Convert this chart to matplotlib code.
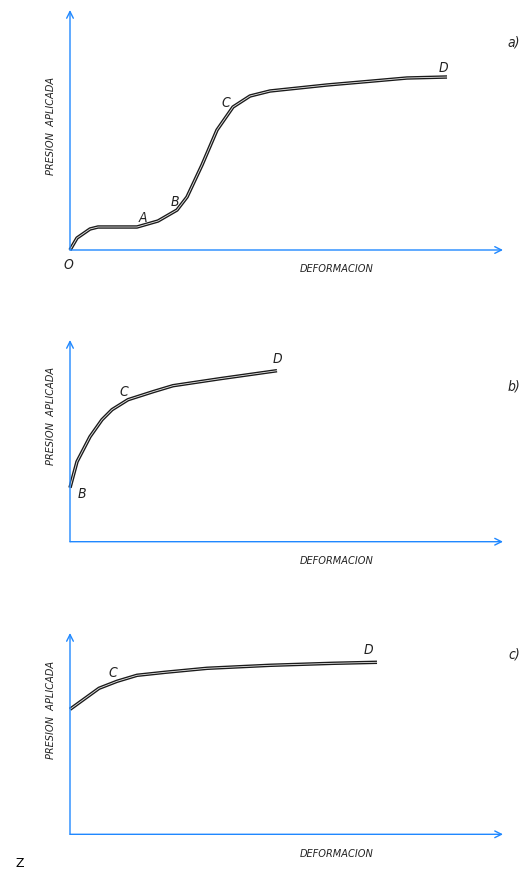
import matplotlib
matplotlib.use("Agg")
import matplotlib.pyplot as plt

# ---- data (arbitrary units: deformation, applied pressure) ----
a_x = [0, 7, 20, 28, 67, 88, 107, 117, 132, 147, 163, 180, 200, 257, 303, 337, 377]
a_y = [0, 12, 21, 23, 23, 29, 40, 53, 85, 120, 143, 154, 159, 165, 169, 172, 173]
a_pts = {"O": (-2, -15), "A": (73, 32), "B": (105, 48), "C": (156, 147), "D": (373, 182)}

b_x = [0, 7, 20, 32, 42, 58, 83, 103, 150, 207]
b_y = [54, 80, 105, 122, 132, 142, 150, 156, 163, 171]
b_pts = {"B": (12, 48), "C": (54, 150), "D": (207, 183)}

c_x = [0, 29, 47, 67, 95, 137, 200, 263, 307]
c_y = [125, 146, 153, 159, 162, 166, 169, 171, 172]
c_pts = {"C": (43, 161), "D": (298, 184)}

panel_tags = ["a)", "b)", "c)"]
xlabel = "DEFORMACION"
ylabel = "PRESION  APLICADA"

W, H = 522, 875
fig = plt.figure(figsize=(W / 100, H / 100), dpi=100)
blue = "#2088ff"
font = dict(family="DejaVu Sans", stretch="condensed", style="oblique", color="#222222")

panels = [
    (a_x, a_y, a_pts, 250.0, 240.0, 42, 126),
    (b_x, b_y, b_pts, 541.7, 201.7, 387, 416),
    (c_x, c_y, c_pts, 834.3, 201.3, 655, 710),
]

for (xs, ys, pts, oy, hgt, tag_y, yc), tag in zip(panels, panel_tags):
    ax = fig.add_axes([70 / W, (H - oy) / H, 433 / W, hgt / H])
    ax.set_xlim(0, 433)
    ax.set_ylim(0, hgt)
    ax.axis("off")
    # axes arrows
    ax.annotate("", xy=(1, 0), xytext=(0, 0), xycoords="axes fraction",
                arrowprops=dict(arrowstyle="->", color=blue, lw=1.0, mutation_scale=12,
                                shrinkA=0, shrinkB=0), annotation_clip=False)
    ax.annotate("", xy=(0, 1), xytext=(0, 0), xycoords="axes fraction",
                arrowprops=dict(arrowstyle="->", color=blue, lw=1.0, mutation_scale=12,
                                shrinkA=0, shrinkB=0), annotation_clip=False)
    # double-line curve
    ax.plot(xs, ys, color="#1a1a1a", lw=2.5, solid_capstyle="butt", solid_joinstyle="round", clip_on=False)
    ax.plot(xs, ys, color="#e8e8e8", lw=0.6, solid_capstyle="butt", solid_joinstyle="round", clip_on=False)
    for k, (px, py) in pts.items():
        ax.text(px, py, k, fontsize=10, ha="center", va="center", clip_on=False, **font)
    # axis label
    ax.text(267, -19.5, xlabel, fontsize=7.8, ha="center", va="center", clip_on=False, **font)
    # tag
    fig.text(514 / W, 1 - tag_y / H, tag, fontsize=10, ha="center", va="center", **font)
    # y label
    fig.text(51 / W, 1 - yc / H, ylabel, fontsize=7.8, rotation=90, ha="center", va="center", **font)

fig.text(19.5 / W, 1 - 863.5 / H, "Z", fontsize=9, ha="center", va="center", color="black")

fig.savefig("out.png", dpi=100)
